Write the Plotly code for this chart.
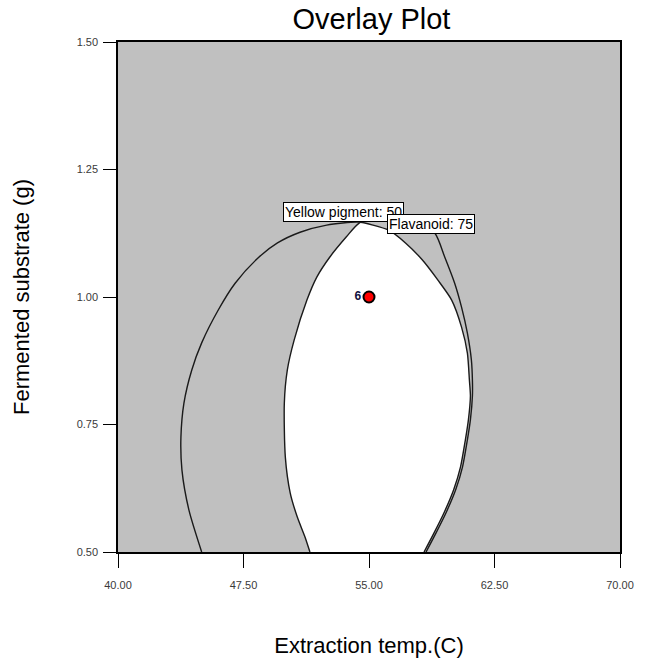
import plotly.graph_objects as go

# Axis ticks
x_ticks = [40.0, 47.5, 55.0, 62.5, 70.0]
x_tick_labels = ["40.00", "47.50", "55.00", "62.50", "70.00"]
y_ticks = [0.50, 0.75, 1.00, 1.25, 1.50]
y_tick_labels = ["0.50", "0.75", "1.00", "1.25", "1.50"]

# Contour: Yellow pigment = 50
yellow_x = [45.00, 44.24, 43.82, 43.76, 43.94, 44.41, 45.00, 46.00, 47.00, 48.35, 49.53, 50.88,
            52.47, 54.35, 55.24, 56.18, 57.18, 58.18, 59.12, 59.94, 60.53, 60.88, 61.00, 61.06,
            60.94, 60.76, 60.47, 60.06, 59.47, 58.88, 58.29]
yellow_y = [0.500, 0.582, 0.661, 0.725, 0.792, 0.857, 0.910, 0.975, 1.027, 1.076, 1.106, 1.127,
            1.141, 1.147, 1.141, 1.131, 1.106, 1.073, 1.033, 0.994, 0.941, 0.890, 0.837, 0.806,
            0.759, 0.720, 0.667, 0.622, 0.576, 0.537, 0.500]

# Contour: Flavanoid = 75
flav_x = [51.47, 51.18, 50.71, 50.29, 50.00, 49.94, 50.12, 50.53, 51.29, 51.88, 52.65, 53.65,
          54.41, 56.29, 57.76, 58.94, 59.53, 60.12, 60.53, 60.88, 61.12, 61.18, 61.18, 61.06,
          60.88, 60.59, 60.18, 59.59, 59.00, 58.41]
flav_y = [0.500, 0.529, 0.569, 0.616, 0.686, 0.792, 0.857, 0.916, 0.994, 1.039, 1.078, 1.118,
          1.145, 1.167, 1.151, 1.125, 1.078, 1.027, 0.980, 0.929, 0.876, 0.837, 0.806, 0.759,
          0.720, 0.667, 0.622, 0.576, 0.537, 0.500]

# Feasible (white) region: Flavanoid left edge up to cusp, then Yellow right edge down
feas_x = flav_x[:13] + yellow_x[14:]
feas_y = flav_y[:13] + yellow_y[14:]

# Design point
pt_x = [55.0]
pt_y = [1.00]
pt_label = ["<b>6</b>"]

# Contour labels
labels = [("Yellow pigment: 50", 53.47, 1.167), ("Flavanoid: 75", 58.68, 1.143)]

fig = go.Figure()

fig.add_trace(go.Scatter(x=feas_x, y=feas_y, mode="lines", fill="toself",
                         fillcolor="white", line=dict(width=0, shape="spline", smoothing=0.7),
                         hoverinfo="skip", showlegend=False))

line_style = dict(color="#1a1a1a", width=1.4, shape="spline", smoothing=0.7)
fig.add_trace(go.Scatter(x=yellow_x, y=yellow_y, mode="lines", line=line_style,
                         showlegend=False, name="Yellow pigment"))
fig.add_trace(go.Scatter(x=flav_x, y=flav_y, mode="lines", line=line_style,
                         showlegend=False, name="Flavanoid"))

fig.add_trace(go.Scatter(x=pt_x, y=pt_y, mode="markers+text", text=pt_label,
                         textposition="middle left",
                         textfont=dict(family="Arial", size=12, color="#101040"),
                         marker=dict(size=11, color="red", line=dict(color="black", width=2)),
                         showlegend=False))

for txt, lx, ly in labels:
    fig.add_annotation(x=lx, y=ly, text=txt, showarrow=False,
                       font=dict(family="Arial", size=14, color="black"),
                       bgcolor="white", bordercolor="black", borderwidth=1, borderpad=1)

fig.update_layout(
    width=646, height=666,
    margin=dict(l=118, r=18, t=42, b=114),
    paper_bgcolor="white",
    plot_bgcolor="#C0C0C0",
    title=dict(text="Overlay Plot", x=0.575, xanchor="center", y=0.972, yanchor="middle",
               font=dict(family="Arial", size=29, color="black")),
    font=dict(family="Arial"),
)

fig.update_xaxes(range=[40, 70], tickvals=x_ticks, ticktext=x_tick_labels,
                 showgrid=False, zeroline=False, showline=True, linecolor="black",
                 linewidth=1.5, mirror=True, ticks="outside", ticklen=14,
                 tickcolor="black", tickwidth=1.2, ticklabelstandoff=8,
                 tickfont=dict(family="Arial", size=11, color="#3a3a3a"),
                 title=dict(text="Extraction temp.(C)", standoff=48,
                            font=dict(family="Arial", size=22, color="black")))
fig.update_yaxes(range=[0.5, 1.5], tickvals=y_ticks, ticktext=y_tick_labels,
                 showgrid=False, zeroline=False, showline=True, linecolor="black",
                 linewidth=1.5, mirror=True, ticks="outside", ticklen=13,
                 tickcolor="black", tickwidth=1.2, ticklabelstandoff=3,
                 tickfont=dict(family="Arial", size=11, color="#3a3a3a"),
                 title=dict(text="Fermented substrate (g)", standoff=41,
                            font=dict(family="Arial", size=22, color="black")))

fig.write_html("out.html")
